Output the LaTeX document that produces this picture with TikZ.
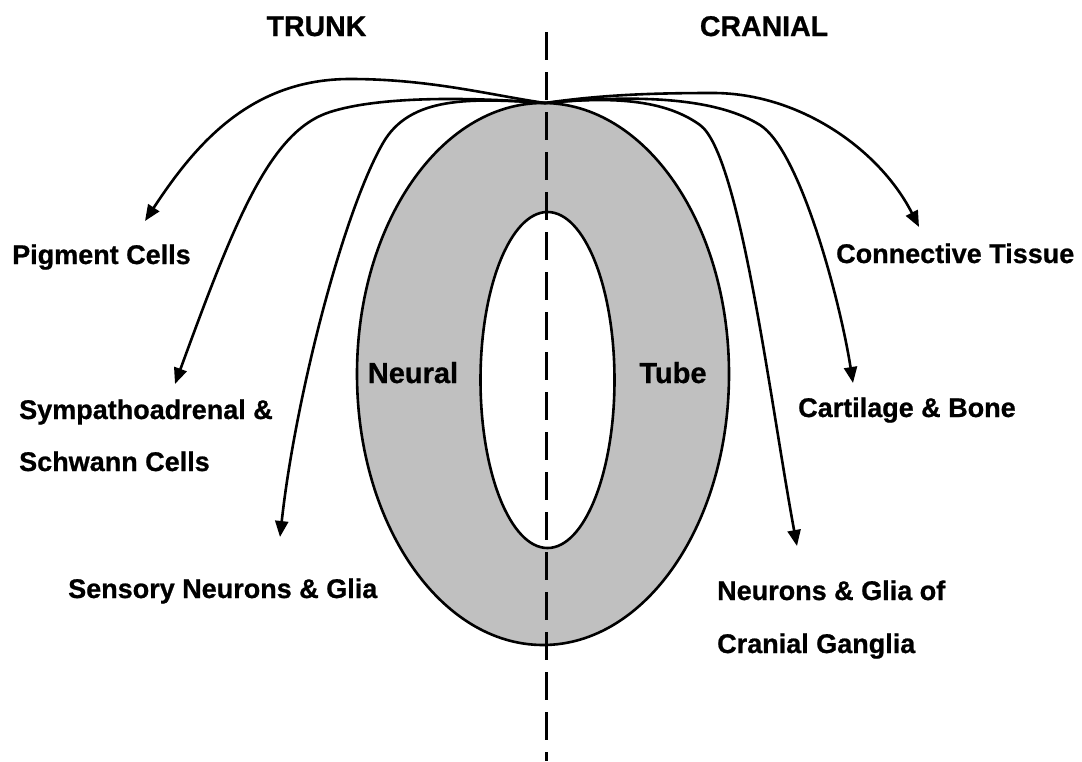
\documentclass[tikz,border=0pt]{standalone}
\usepackage{fontspec}
\setmainfont{Liberation Sans}[BoldFeatures={FakeBold=0.8}]
\usetikzlibrary{arrows.meta}
\definecolor{tubegray}{RGB}{192,192,192}
\begin{document}
\begin{tikzpicture}[x=1pt,y=-1pt,
  lbl/.style={font=\bfseries\fontsize{27}{32}\selectfont, inner sep=0pt, anchor=base west},
  hdr/.style={font=\bfseries\fontsize{28.5}{34}\selectfont, inner sep=0pt, anchor=base},
  tubelbl/.style={font=\bfseries\fontsize{29}{34}\selectfont, inner sep=0pt, anchor=base},
  flow/.style={line width=2.6pt, -{Triangle[length=16pt,width=13pt]}},
  outline/.style={line width=2.6pt},
  midline/.style={line width=3pt, dash pattern=on 28pt off 12pt}
]
\useasboundingbox (0,0) rectangle (1082,761);
% neural tube
\draw[outline, fill=tubegray] (543,374) ellipse [x radius=186, y radius=271];
\draw[outline, fill=white] (547.5,380) ellipse [x radius=67, y radius=168];
% midline
\coordinate (midtop) at (546,32);
\coordinate (midbot) at (546,761);
\draw[midline] (midtop) -- (midbot);
% headers
\node[hdr] (trunk) at (316.5,36) {TRUNK};
\node[hdr] (cranial) at (764,36) {CRANIAL};
% tube labels
\node[tubelbl] (neural) at (413,383) {Neural};
\node[tubelbl] (tubetxt) at (673,383) {Tube};
% derivative labels
\node[lbl] (pig) at (12,264) {Pigment Cells};
\node[lbl] (sym1) at (19,419) {Sympathoadrenal \&};
\node[lbl] (sym2) at (19,471) {Schwann Cells};
\node[lbl] (sen) at (68,598) {Sensory Neurons \& Glia};
\node[lbl] (con) at (836,263) {Connective Tissue};
\node[lbl] (car) at (798,417) {Cartilage \& Bone};
\node[lbl] (neu1) at (717,600) {Neurons \& Glia of};
\node[lbl] (neu2) at (717,653) {Cranial Ganglia};
% arrow coordinates
\coordinate (src) at (545,103);
\coordinate (tPig) at (145,221);
\coordinate (tSym) at (175,384);
\coordinate (tSen) at (280,537);
\coordinate (tCon) at (919,227);
\coordinate (tCar) at (853,383);
\coordinate (tNeu) at (797,546);
% arrows
\draw[flow] (src) .. controls (490,95) and (430,79) .. (350,79) .. controls (250,79) and (195,145) .. (tPig);
\draw[flow] (src) .. controls (470,97) and (380,96) .. (330,112) .. controls (270,131) and (235,220) .. (tSym);
\draw[flow] (src) .. controls (470,98) and (410,96) .. (383,143) .. controls (342.5,213.5) and (295,400) .. (tSen);
\draw[flow] (src) .. controls (600,95) and (650,93) .. (713,93) .. controls (800,93) and (880,150) .. (tCon);
\draw[flow] (src) .. controls (620,96) and (710,94) .. (760,125) .. controls (800,150) and (840,300) .. (tCar);
\draw[flow] (src) .. controls (600,98) and (660,96) .. (700,125) .. controls (740,154) and (770,400) .. (tNeu);
\end{tikzpicture}
\end{document}
